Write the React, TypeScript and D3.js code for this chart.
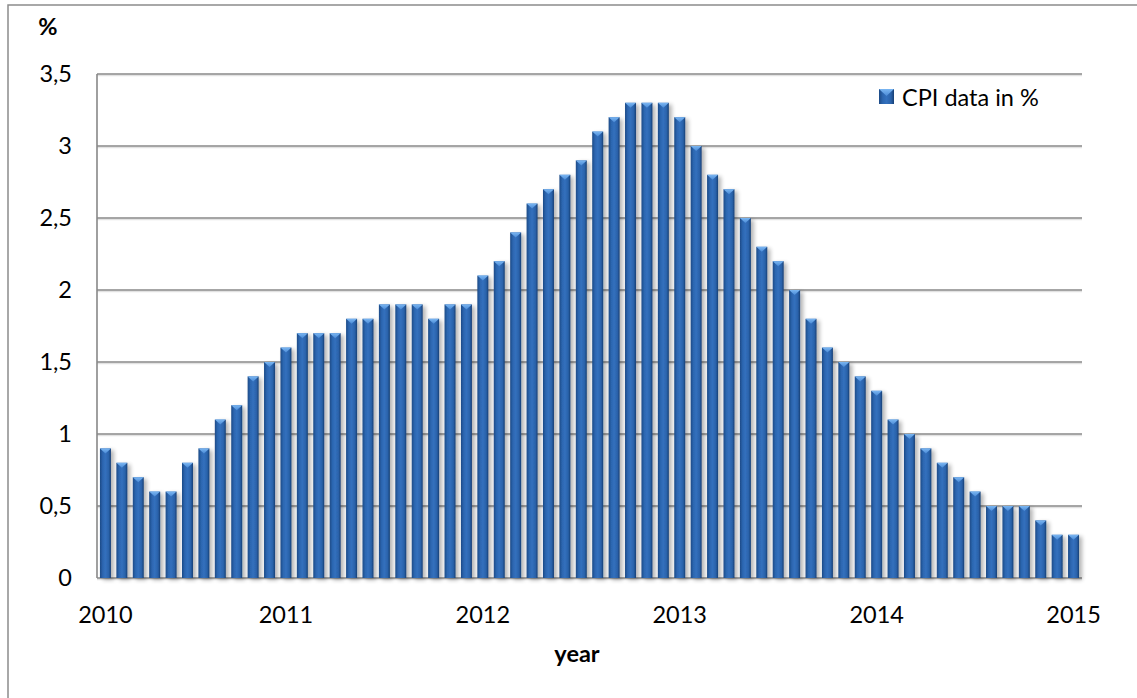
import { formatLocale, scaleBand, scaleLinear, timeMonth } from 'd3';

// monthly CPI values, Feb 2010 .. Jan 2015
const cpiValues: number[] = [
  0.9, 0.8, 0.7, 0.6, 0.6, 0.8, 0.9, 1.1, 1.2, 1.4, 1.5, 1.6,
  1.7, 1.7, 1.7, 1.8, 1.8, 1.9, 1.9, 1.9, 1.8, 1.9, 1.9, 2.1,
  2.2, 2.4, 2.6, 2.7, 2.8, 2.9, 3.1, 3.2, 3.3, 3.3, 3.3, 3.2,
  3.0, 2.8, 2.7, 2.5, 2.3, 2.2, 2.0, 1.8, 1.6, 1.5, 1.4, 1.3,
  1.1, 1.0, 0.9, 0.8, 0.7, 0.6, 0.5, 0.5, 0.5, 0.4, 0.3, 0.3,
];
const months: Date[] = timeMonth.range(new Date(2010, 1, 1), new Date(2015, 1, 1));
const yearLabels = ['2010', '2011', '2012', '2013', '2014', '2015'];
const yTicks = [0, 0.5, 1, 1.5, 2, 2.5, 3, 3.5];
const seriesName = 'CPI data in %';

const FONT = 'Lato, "Open Sans", sans-serif';
const FS = 23.5;
const fmt = formatLocale({ decimal: ',', thousands: '.', grouping: [3], currency: ['', ''] }).format('~g');

const plot = { left: 97, right: 1082, top: 74, bottom: 578 };

export default function App() {
  const keys = months.map((d) => d.toISOString());
  const x = scaleBand<string>()
    .domain(keys)
    .range([plot.left, plot.right])
    .paddingInner(0.33)
    .paddingOuter(0.18);
  const y = scaleLinear().domain([0, 3.5]).range([plot.bottom, plot.top]);
  const bw = x.bandwidth();

  // year label sits on the January bar of each year (first one clamped to first bar)
  const yearPos = (label: string) => {
    const idx = months.findIndex((m) => m.getFullYear() === +label && m.getMonth() === 0);
    const k = idx < 0 ? 0 : idx;
    return (x(keys[k]) ?? 0) + bw / 2;
  };

  return (
    <svg width={1137} height={698} style={{ position: 'absolute', left: 0, top: 0, background: '#fff' }}>
      <defs>
        <linearGradient id="barGrad" x1="0" x2="1" y1="0" y2="0">
          <stop offset="0" stopColor="#1c4a86" />
          <stop offset="0.25" stopColor="#2c66b0" />
          <stop offset="0.5" stopColor="#3370bd" />
          <stop offset="0.8" stopColor="#2a62aa" />
          <stop offset="1" stopColor="#173f74" />
        </linearGradient>
        <linearGradient id="capGrad" x1="0" x2="0" y1="0" y2="1">
          <stop offset="0" stopColor="#7ab6f2" />
          <stop offset="1" stopColor="#4a8ad6" />
        </linearGradient>
        <filter id="shadow" x="-50%" y="-10%" width="200%" height="120%">
          <feGaussianBlur in="SourceAlpha" stdDeviation="2" />
          <feOffset dx="3" dy="2" result="b" />
          <feComponentTransfer>
            <feFuncA type="linear" slope="0.3" />
          </feComponentTransfer>
          <feMerge>
            <feMergeNode />
            <feMergeNode in="SourceGraphic" />
          </feMerge>
        </filter>
      </defs>

      <rect x={8} y={5} width={1300} height={900} fill="none" stroke="#8c8c8c" strokeWidth={1.5} />

      {/* gridlines */}
      {yTicks.map((t) => (
        <g key={`g-${t}`}>
          <line x1={plot.left} x2={plot.right} y1={y(t) + 1.5} y2={y(t) + 1.5} stroke="#e2e2e2" strokeWidth={1.5} />
          <line x1={plot.left} x2={plot.right} y1={y(t)} y2={y(t)} stroke="#888" strokeWidth={1.6} />
          <text x={72} y={y(t)} dy="0.35em" textAnchor="end" fontFamily={FONT} fontSize={FS} fill="#000">
            {fmt(t)}
          </text>
        </g>
      ))}
      <line x1={plot.left} x2={plot.left} y1={plot.top} y2={plot.bottom} stroke="#888" strokeWidth={1.6} />

      {/* bars */}
      <g filter="url(#shadow)">
        {cpiValues.map((v, i) => {
          const bx = x(keys[i]) ?? 0;
          const by = y(v);
          return (
            <g key={`bar-${i}`}>
              <rect x={bx} y={by} width={bw} height={plot.bottom - by} fill="url(#barGrad)" />
              <path d={`M${bx},${by}L${bx + bw},${by}L${bx + bw / 2},${by + 5}Z`} fill="url(#capGrad)" />
            </g>
          );
        })}
      </g>

      {/* x labels */}
      {yearLabels.map((l) => (
        <text key={l} x={yearPos(l)} y={623} textAnchor="middle" fontFamily={FONT} fontSize={FS} fill="#000">
          {l}
        </text>
      ))}

      <text x={577} y={662} textAnchor="middle" fontFamily={FONT} fontSize={FS} fontWeight="bold" fill="#000">
        year
      </text>
      <text x={48} y={35} textAnchor="middle" fontFamily={FONT} fontSize={FS} fontWeight="bold" fill="#000">
        %
      </text>

      {/* legend */}
      <g>
        <rect x={879} y={89} width={15} height={15} fill="url(#barGrad)" />
        <path d="M879,89L894,89L886.5,96Z" fill="url(#capGrad)" />
        <text x={902} y={106} fontFamily={FONT} fontSize={FS} fill="#000">
          {seriesName}
        </text>
      </g>
    </svg>
  );
}
